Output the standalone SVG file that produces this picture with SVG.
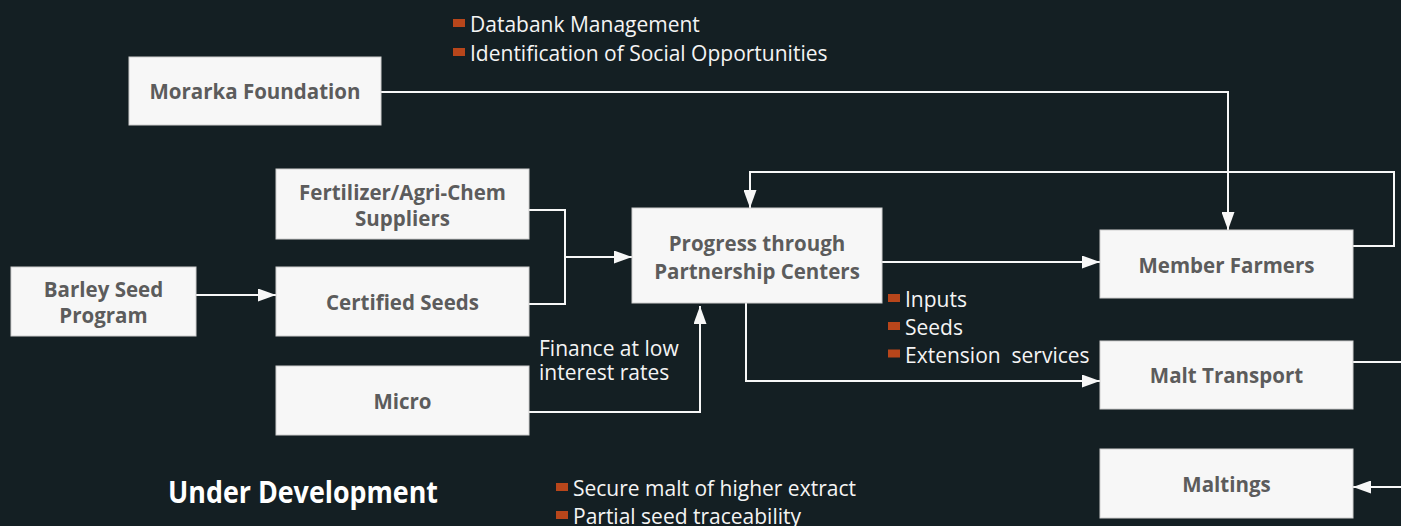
<svg xmlns="http://www.w3.org/2000/svg" width="1401" height="526" viewBox="0 0 1401 526">
<style>
.box{fill:#f7f7f7;stroke:#cfcfcf;stroke-width:1}
.lbl{font-family:"Open Sans","Noto Sans",sans-serif;font-weight:bold;font-size:20.5px;fill:#5c5c5c;text-anchor:middle}
.wt{font-family:"Open Sans","Noto Sans",sans-serif;font-size:21px;fill:#f4f4f4}
.blt{fill:#b8461b}
.ln{fill:none;stroke:#f7f7f7;stroke-width:2}
</style>
<defs>
<marker id="ah" markerUnits="userSpaceOnUse" markerWidth="18" markerHeight="13" refX="18" refY="6.5" orient="auto">
<path d="M0,0 L18,6.5 L0,13 z" fill="#f7f7f7"/>
</marker>
</defs>
<rect x="0" y="0" width="1401" height="526" fill="#141f23"/>

<g id="connectors">
<path class="ln" d="M196,295 H276" marker-end="url(#ah)"/>
<path class="ln" d="M529,210 H565 V304 H529"/>
<path class="ln" d="M565,257 H632" marker-end="url(#ah)"/>
<path class="ln" d="M529,412 H700 V306" marker-end="url(#ah)"/>
<path class="ln" d="M882,262 H1100" marker-end="url(#ah)"/>
<path class="ln" d="M1353,246 H1394 V172 H750 V208" marker-end="url(#ah)"/>
<path class="ln" d="M381,92 H1228 V230" marker-end="url(#ah)"/>
<path class="ln" d="M746,303 V381 H1100" marker-end="url(#ah)"/>
<path class="ln" d="M1353,362 H1403"/>
<path class="ln" d="M1403,487 H1353" marker-end="url(#ah)"/>
</g>

<g id="morarka">
<rect class="box" x="129" y="57" width="252" height="68"/>
<text class="lbl" x="255" y="99">Morarka Foundation</text>
</g>
<g id="fertilizer">
<rect class="box" x="276" y="169" width="253" height="70"/>
<text class="lbl" x="402.5" y="200">Fertilizer/Agri-Chem</text>
<text class="lbl" x="402.5" y="225.5">Suppliers</text>
</g>
<g id="barley">
<rect class="box" x="11" y="267" width="185" height="69"/>
<text class="lbl" x="103.5" y="297">Barley Seed</text>
<text class="lbl" x="103.5" y="323">Program</text>
</g>
<g id="certified">
<rect class="box" x="276" y="267" width="253" height="69"/>
<text class="lbl" x="402.5" y="310">Certified Seeds</text>
</g>
<g id="micro">
<rect class="box" x="276" y="366" width="253" height="69"/>
<text class="lbl" x="402.5" y="409">Micro</text>
</g>
<g id="progress">
<rect class="box" x="632" y="208" width="250" height="95"/>
<text class="lbl" x="757" y="251">Progress through</text>
<text class="lbl" x="757" y="278.5">Partnership Centers</text>
</g>
<g id="member">
<rect class="box" x="1100" y="230" width="253" height="68"/>
<text class="lbl" x="1226.5" y="272.5">Member Farmers</text>
</g>
<g id="malt-transport">
<rect class="box" x="1100" y="341" width="253" height="68"/>
<text class="lbl" x="1226.5" y="383">Malt Transport</text>
</g>
<g id="maltings">
<rect class="box" x="1100" y="449" width="253" height="69"/>
<text class="lbl" x="1226.5" y="492">Maltings</text>
</g>

<g id="top-notes">
<rect class="blt" x="453" y="19" width="12" height="8"/>
<text class="wt" x="470" y="32">Databank Management</text>
<rect class="blt" x="453" y="48" width="12" height="8"/>
<text class="wt" x="470" y="60.5">Identification of Social Opportunities</text>
</g>
<g id="pc-notes">
<rect class="blt" x="888" y="294" width="12" height="8"/>
<text class="wt" x="905" y="307">Inputs</text>
<rect class="blt" x="888" y="322" width="12" height="8"/>
<text class="wt" x="905" y="335">Seeds</text>
<rect class="blt" x="888" y="349.5" width="12" height="8"/>
<text class="wt" x="905" y="362.5" xml:space="preserve">Extension  services</text>
</g>
<g id="finance-note">
<text class="wt" x="539" y="356">Finance at low</text>
<text class="wt" x="539" y="380">interest rates</text>
</g>
<g id="under-development">
<text x="168" y="503" font-family="'Open Sans','Noto Sans',sans-serif" font-weight="bold" font-size="31" fill="#ffffff" textLength="270" lengthAdjust="spacingAndGlyphs">Under Development</text>
</g>
<g id="bottom-notes">
<rect class="blt" x="556" y="483" width="12" height="8"/>
<text class="wt" x="573" y="496">Secure malt of higher extract</text>
<rect class="blt" x="556" y="511" width="12" height="8"/>
<text class="wt" x="573" y="523.5">Partial seed traceability</text>
</g>
</svg>
